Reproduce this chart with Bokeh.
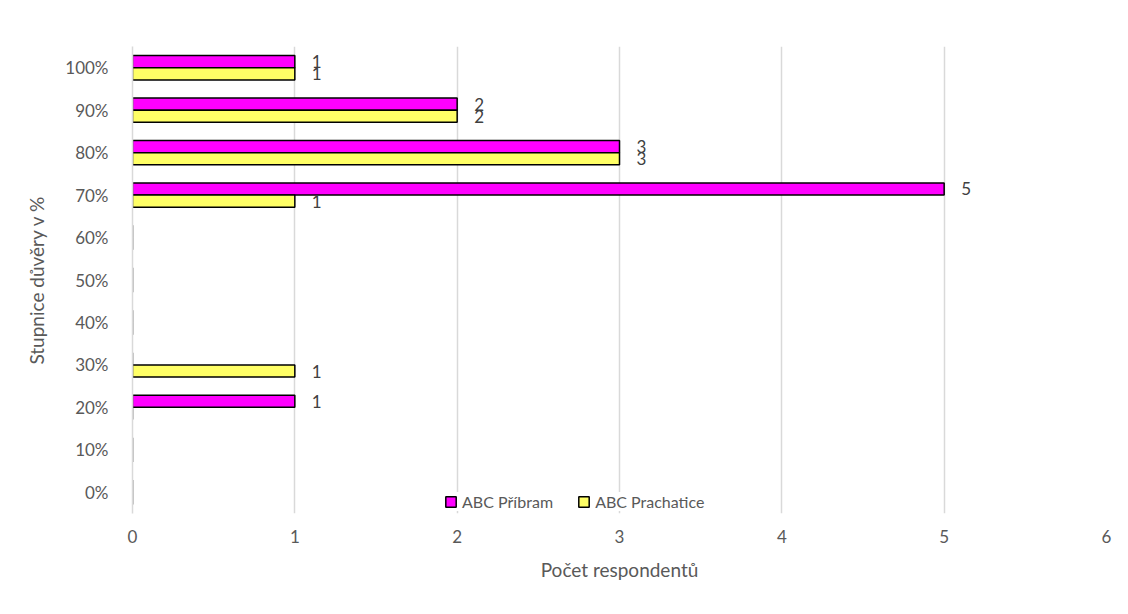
from bokeh.plotting import figure
from bokeh.models import ColumnDataSource, FactorRange, Range1d, Legend, LegendItem, FixedTicker
from bokeh.core.properties import value
from bokeh.transform import dodge
from bokeh.embed import file_html
from bokeh.resources import INLINE

categories = ["0%", "10%", "20%", "30%", "40%", "50%", "60%", "70%", "80%", "90%", "100%"]
pribram = [0, 0, 1, 0, 0, 0, 0, 5, 3, 2, 1]
prachatice = [0, 0, 0, 1, 0, 0, 0, 1, 3, 2, 1]
series_names = ["ABC Příbram", "ABC Prachatice"]
x_ticks = [0, 1, 2, 3, 4, 5, 6]

FONT = "Lato"
BAR_H = 0.287
OFF = BAR_H / 2

p = figure(frame_width=974, frame_height=467, y_range=FactorRange(factors=categories),
           x_range=Range1d(0, 6), output_backend="svg", toolbar_location=None,
           min_border_left=132, min_border_right=22, min_border_top=46, min_border_bottom=101)
p.background_fill_color = "white"
p.border_fill_color = "white"
p.outline_line_color = None

src = ColumnDataSource(dict(cat=categories, pribram=pribram, prachatice=prachatice))

r1 = p.hbar(y=dodge("cat", OFF, range=p.y_range), right="pribram", left=0, height=BAR_H,
            source=src, fill_color="#FF00FF", line_color="black", line_width=1.5)
r2 = p.hbar(y=dodge("cat", -OFF, range=p.y_range), right="prachatice", left=0, height=BAR_H,
            source=src, fill_color="#FFFF66", line_color="black", line_width=1.5)

# data labels (non-zero values only)
for vals, off in ((pribram, OFF), (prachatice, -OFF)):
    cats = [c for c, v in zip(categories, vals) if v > 0]
    vs = [v for v in vals if v > 0]
    ls = ColumnDataSource(dict(cat=cats, v=vs, t=[str(v) for v in vs]))
    p.text(x="v", y=dodge("cat", off, range=p.y_range), text="t", source=ls,
           x_offset=17, text_baseline="middle", text_align="left",
           text_font=value(FONT), text_font_size="17px", text_color="#404040")

# axes
p.xaxis.ticker = FixedTicker(ticks=x_ticks)
p.xaxis.axis_line_color = None
p.xaxis.major_tick_line_color = None
p.xaxis.major_tick_out = 0
p.xaxis.minor_tick_line_color = None
p.xaxis.major_label_text_font = FONT
p.xaxis.major_label_text_font_size = "17px"
p.xaxis.major_label_text_color = "#595959"
p.xaxis.major_label_standoff = 16
p.xaxis.axis_label = "Počet respondentů"
p.xaxis.axis_label_text_font = FONT
p.xaxis.axis_label_text_font_size = "19px"
p.xaxis.axis_label_text_font_style = "normal"
p.xaxis.axis_label_text_color = "#595959"
p.xaxis.axis_label_standoff = 12

p.yaxis.axis_line_color = "#D9D9D9"
p.yaxis.axis_line_width = 1.5
p.yaxis.major_tick_line_color = None
p.yaxis.major_tick_out = 0
p.yaxis.minor_tick_line_color = None
p.yaxis.major_label_text_font = FONT
p.yaxis.major_label_text_font_size = "17px"
p.yaxis.major_label_text_color = "#595959"
p.yaxis.major_label_standoff = 24
p.yaxis.axis_label = "Stupnice důvěry v %"
p.yaxis.axis_label_text_font = FONT
p.yaxis.axis_label_text_font_size = "19px"
p.yaxis.axis_label_text_font_style = "normal"
p.yaxis.axis_label_text_color = "#595959"
p.yaxis.axis_label_standoff = 14

p.xgrid.grid_line_color = "#D9D9D9"
p.xgrid.grid_line_width = 1.5
p.ygrid.grid_line_color = None

legend = Legend(items=[LegendItem(label=series_names[0], renderers=[r1]),
                       LegendItem(label=series_names[1], renderers=[r2])],
                orientation="horizontal", location=(312, 2),
                glyph_width=13, glyph_height=13, label_standoff=5, spacing=24,
                padding=4, margin=0, border_line_color=None,
                background_fill_color="white", background_fill_alpha=1,
                label_height=16,
                label_text_font=FONT, label_text_font_size="16px", label_text_color="#595959")
p.add_layout(legend, "center")

open("out.html", "w").write(file_html(p, INLINE))
